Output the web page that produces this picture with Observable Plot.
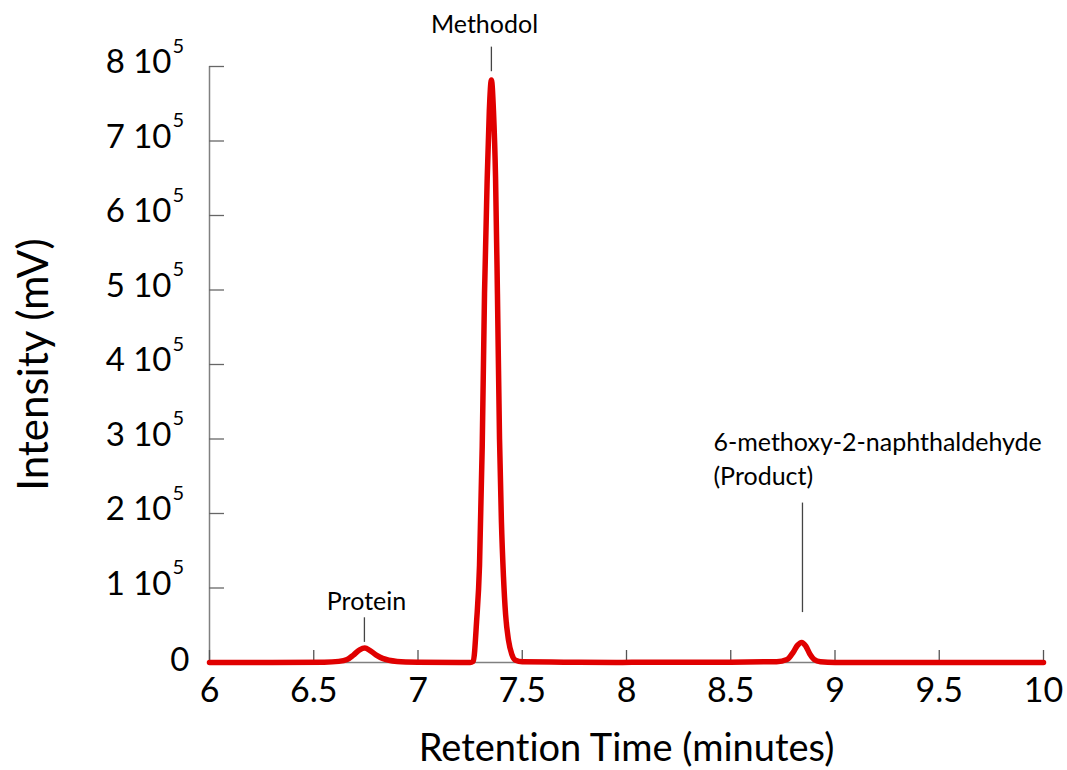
<!DOCTYPE html>
<html>
<head>
<meta charset="utf-8">
<script src="https://cdn.jsdelivr.net/npm/d3@7"></script>
<script src="https://cdn.jsdelivr.net/npm/@observablehq/plot@0.6"></script>
<style>
  html, body { margin: 0; padding: 0; background: #fff; }
  #chart svg { display: block; }
  #chart svg text { font-variant-ligatures: none; font-feature-settings: "liga" 0, "clig" 0; }
</style>
</head>
<body>
<div id="chart"></div>
<script>
// Chromatogram samples (retention time in minutes, intensity in mV)
const time = [6.0, 6.3, 6.55, 6.62, 6.66, 6.69, 6.72, 6.745, 6.77, 6.8, 6.83, 6.86, 6.9, 7.0, 7.2, 7.25,
  7.265, 7.281, 7.295, 7.308, 7.319, 7.332, 7.342, 7.352, 7.362, 7.372, 7.381, 7.391, 7.40, 7.41, 7.42, 7.434, 7.45, 7.468,
  7.5, 7.7, 7.95, 8.1, 8.5, 8.72, 8.77, 8.8, 8.82, 8.84, 8.86, 8.88, 8.9, 8.93, 9.0, 9.3, 10.0];
const intensity = [0, 0, 500, 1500, 4000, 10000, 17000, 19500, 16000, 10000, 5500, 3000, 1500, 500, 0, 0,
  1500, 55000, 130000, 290000, 495000, 650000, 740000, 782000, 740000, 650000, 495000, 300000, 190000, 115000, 65000, 30000, 11000, 3000,
  1000, 500, 0, 500, 500, 1000, 4000, 14000, 23000, 27000, 22000, 11000, 4000, 1000, 0, 0, 0];

// Axis ticks
const xTicks = [6, 6.5, 7, 7.5, 8, 8.5, 9, 9.5, 10];
const yTicks = [0, 100000, 200000, 300000, 400000, 500000, 600000, 700000, 800000];

// Peak annotations
const peakNames = ["Protein", "Methodol"];
const peakTime = [6.743, 7.352];
const leaderBottom = [27000, 793000];
const leaderTop = [60000, 826000];
const labelTime = [6.753, 7.319];
const labelLevel = [81000, 856000];

const productLines = ["6-methoxy-2-naphthaldehyde", "(Product)"];
const productLineLevel = [294000, 249000];
const productTime = 8.844;
const productLabelTime = 8.417;
const productLeader = [67000, 214000];

const series = time.map((t, i) => ({t, v: intensity[i]}));
const peaks = peakNames.map((name, i) => ({
  name, t: peakTime[i], lo: leaderBottom[i], hi: leaderTop[i], lt: labelTime[i], ll: labelLevel[i]
}));
const product = productLines.map((name, i) => ({name, lt: productLabelTime, ll: productLineLevel[i]}));

const W = 1067, H = 770;
const mL = 209, mR = 24, mT = 66, mB = 108;
const plotW = W - mL - mR, plotH = H - mT - mB;
const font = "Lato, 'Open Sans', sans-serif";
const gray = "#808080";

const chart = Plot.plot({
  width: W, height: H,
  marginLeft: mL, marginRight: mR, marginTop: mT, marginBottom: mB,
  style: {fontFamily: font, background: "#fff", color: "#000"},
  x: {domain: [6, 10], axis: null},
  y: {domain: [0, 800000], axis: null},
  marks: [
    // axis lines
    Plot.ruleY([0], {stroke: gray, strokeWidth: 1.5}),
    Plot.ruleX([6], {y1: 0, y2: 800000, stroke: gray, strokeWidth: 1.5}),
    // inward ticks
    Plot.ruleX(xTicks, {x: d => d, stroke: "#555", strokeWidth: 1.3, insetTop: plotH - 12}),
    Plot.ruleY(yTicks, {y: d => d, stroke: "#666", strokeWidth: 1.3, insetRight: plotW - 15}),
    // x tick labels
    Plot.text(xTicks, {x: d => d, frameAnchor: "bottom", lineAnchor: "middle", dy: 29, text: d => String(d), fontSize: 34, fill: "#000"}),
    // y tick labels: mantissa, power of ten and superscript exponent
    Plot.text(yTicks.filter(d => d === 0), {y: d => d, frameAnchor: "left", dx: -20, dy: -2, textAnchor: "end", text: d => "0", fontSize: 33, fill: "#000"}),
    Plot.text(yTicks.filter(d => d > 0), {y: d => d, frameAnchor: "left", dx: -38, dy: -4, textAnchor: "end", text: d => `${d / 1e5} 10`, fontSize: 33, fill: "#000"}),
    Plot.text(yTicks.filter(d => d > 0), {y: d => d, frameAnchor: "left", dx: -37, dy: -20, textAnchor: "start", text: d => "5", fontSize: 20, fill: "#000"}),
    // axis titles
    Plot.text(["Intensity (mV)"], {frameAnchor: "left", textAnchor: "middle", lineAnchor: "middle", dx: -175, rotate: -90, text: d => d, fontSize: 42, fill: "#000"}),
    Plot.text(["Retention Time (minutes)"], {frameAnchor: "bottom", textAnchor: "middle", lineAnchor: "middle", dy: 86, text: d => d, fontSize: 38, fill: "#000"}),
    // chromatogram
    Plot.line(series, {x: "t", y: "v", stroke: "#e00000", strokeWidth: 5.5, curve: "monotone-x", strokeLinejoin: "round"}),
    // annotations
    Plot.ruleX(peaks, {x: "t", y1: "lo", y2: "hi", stroke: "#444", strokeWidth: 1.3}),
    Plot.text(peaks, {x: "lt", y: "ll", text: "name", fontSize: 25, fill: "#000", textAnchor: "middle"}),
    Plot.ruleX([productTime], {x: d => d, y1: productLeader[0], y2: productLeader[1], stroke: "#444", strokeWidth: 1.3}),
    Plot.text(product, {x: "lt", y: "ll", text: "name", textAnchor: "start", fontSize: 25, fill: "#000"})
  ]
});
document.getElementById("chart").appendChild(chart);
</script>
</body>
</html>
